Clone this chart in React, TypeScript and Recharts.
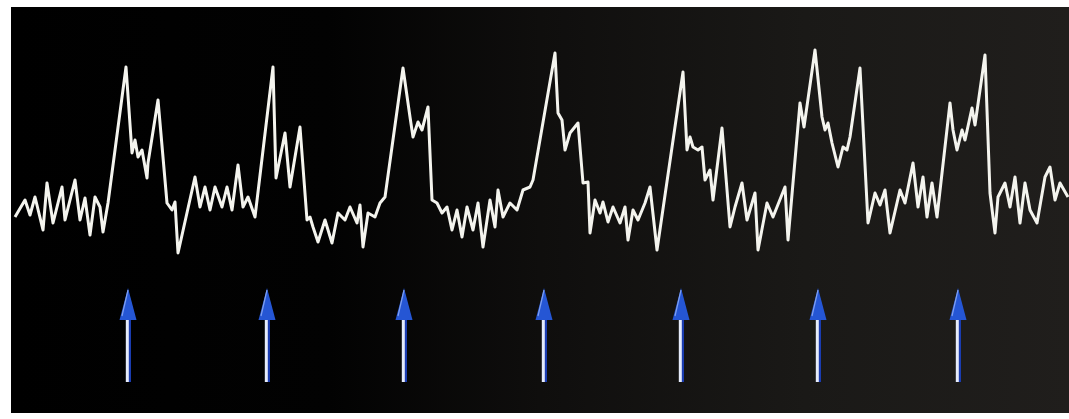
import { ComposedChart, Line, Scatter, XAxis, YAxis } from "recharts";

const beat1: [number, number][] = [
  [15, -2], [25, 15], [30, 0], [35, 18], [43, -15], [47, 32], [53, -8], [62, 28],
  [65, -5], [75, 35], [80, -5], [85, 17], [90, -20], [95, 18], [100, 8], [103, -17],
  [108, 12], [126, 148], [132, 62], [135, 75], [138, 58], [142, 65], [147, 37],
  [148, 52], [158, 115], [167, 12], [172, 5], [175, 13], [178, -38], [195, 38],
  [200, 8], [205, 28], [210, 5], [215, 28], [222, 8], [227, 28], [232, 5], [238, 50],
  [243, 8], [248, 18], [255, -2],
];
const beat2: [number, number][] = [
  [273, 148], [276, 37], [285, 82], [290, 28], [300, 88], [307, -5], [310, -2],
  [313, -12], [318, -27], [325, -5], [332, -28], [338, 2], [345, -5], [350, 8],
  [357, -8], [360, 10], [363, -32], [368, 2], [375, -2], [380, 12], [385, 18],
];
const beat3: [number, number][] = [
  [403, 147], [410, 98], [413, 78], [418, 93], [422, 85], [428, 108], [432, 15],
  [437, 12], [442, 2], [447, 8], [452, -15], [457, 5], [462, -22], [467, 8],
  [473, -15], [478, 12], [483, -32], [490, 15], [495, -12], [498, 25], [503, -2],
  [510, 12], [517, 5], [523, 25], [530, 28], [533, 35],
];
const beat4: [number, number][] = [
  [555, 162], [558, 102], [562, 95], [565, 65], [570, 82], [578, 92], [583, 32],
  [588, 33], [590, -18], [595, 15], [600, 2], [603, 13], [608, -7], [613, 8],
  [620, -8], [625, 8], [628, -25], [633, 5], [638, -5], [645, 12], [650, 28],
  [657, -35],
];
const beat5: [number, number][] = [
  [683, 143], [687, 65], [690, 78], [693, 68], [698, 65], [702, 68], [705, 35],
  [710, 45], [713, 15], [722, 87], [730, -12], [735, 8], [742, 32], [747, -5],
  [755, 22], [758, -35], [767, 12], [773, -2], [785, 28], [788, -25],
];
const beat6: [number, number][] = [
  [800, 112], [804, 88], [815, 165], [822, 98], [825, 85], [828, 92], [832, 72],
  [838, 48], [843, 68], [847, 65], [850, 78], [860, 147], [868, -8], [875, 22],
  [880, 10], [885, 25], [890, -18], [900, 25], [905, 12], [913, 52], [918, 8],
  [923, 38], [927, -2], [932, 32], [937, -2],
];
const beat7: [number, number][] = [
  [950, 112], [953, 85], [957, 65], [962, 85], [965, 75], [972, 107], [975, 90],
  [985, 160], [990, 22], [995, -18], [998, 18], [1005, 32], [1010, 8], [1015, 38],
  [1020, -8], [1025, 32], [1030, 5], [1037, -8], [1045, 38], [1050, 48], [1055, 15],
  [1060, 32], [1068, 18],
];

// arrows marking each atrial beat
const arrowTimes = [128, 267, 404, 544, 681, 818, 958];
const arrowLevel = -73;

const trace = [...beat1, ...beat2, ...beat3, ...beat4, ...beat5, ...beat6, ...beat7].map(
  ([t, mv]) => ({ t, mv })
);
const arrows = arrowTimes.map((t) => ({ t, mv: arrowLevel }));

const Arrow = (props: any) => {
  const { cx, cy } = props;
  return (
    <g>
      <rect x={cx - 1.5} y={cy + 28} width={4.5} height={66} fill="#1a3cb0" />
      <rect x={cx - 2.2} y={cy + 28} width={3} height={66} fill="#e6ecfb" />
      <polygon
        points={`${cx},${cy} ${cx - 8.5},${cy + 32} ${cx + 8.5},${cy + 32}`}
        fill="#2556d4"
      />
      <line x1={cx} y1={cy + 2} x2={cx - 6} y2={cy + 28} stroke="#7fa0f0" strokeWidth={1.2} />
    </g>
  );
};

export default function App() {
  return (
    <div style={{ position: "absolute", left: 0, top: 0, width: 1069, height: 419, background: "#fff" }}>
      <div
        style={{
          position: "absolute",
          left: 11,
          top: 7,
          width: 1058,
          height: 406,
          background:
            "linear-gradient(90deg, #000 0%, #020202 30%, #0f0e0d 50%, #1a1917 75%, #201e1c 100%)",
        }}
      />
      <div style={{ position: "absolute", left: 0, top: 0 }}>
        <ComposedChart width={1069} height={419} margin={{ top: 0, right: 0, bottom: 0, left: 0 }}>
          <XAxis dataKey="t" type="number" domain={[0, 1069]} hide />
          <YAxis type="number" domain={[-204, 215]} hide />
          <Line
            data={trace}
            dataKey="mv"
            type="linear"
            stroke="#f4f4ee"
            strokeWidth={3}
            dot={false}
            activeDot={false}
            isAnimationActive={false}
            strokeLinejoin="round"
          />
          <Scatter data={arrows} dataKey="mv" shape={<Arrow />} activeShape={<Arrow />} isAnimationActive={false} />
        </ComposedChart>
      </div>
    </div>
  );
}
